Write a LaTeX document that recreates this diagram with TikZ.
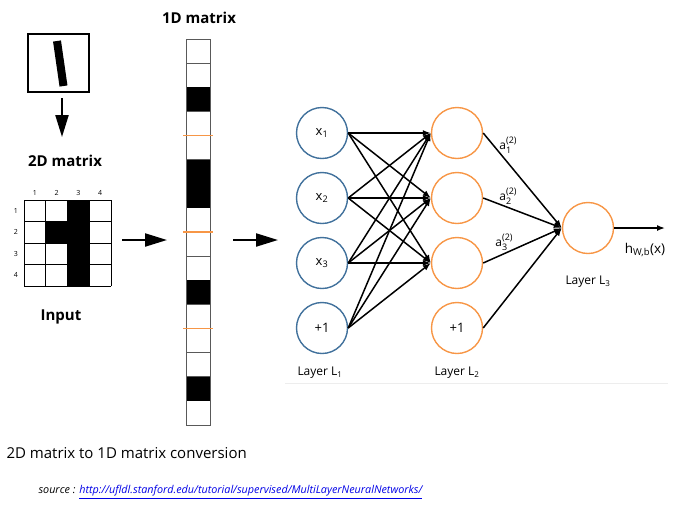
\documentclass[tikz,border=0pt]{standalone}
\usepackage{fontspec}
\setmainfont{Open Sans}
\usetikzlibrary{arrows.meta}
\definecolor{layerblue}{RGB}{65,113,156}
\definecolor{layerorange}{RGB}{247,150,70}
\definecolor{linkblue}{RGB}{0,0,230}
\newcommand{\actlabel}[2]{a\makebox[0pt][l]{\raisebox{-0.6ex}{\fontsize{9}{9}\selectfont #1}}\raisebox{0.9ex}{\fontsize{9}{9}\selectfont #2}}

\begin{document}
\begin{tikzpicture}[x=1pt,y=-1pt,
	neuronA/.style={circle,draw=layerblue,line width=1.4pt,minimum size=51pt,inner sep=0pt,font=\fontsize{13}{15}\selectfont},
	neuronB/.style={circle,draw=layerorange,line width=1.4pt,minimum size=51pt,inner sep=0pt,font=\fontsize{13}{15}\selectfont},
	layertext/.style={font=\fontsize{12}{14}\selectfont},
	title/.style={font=\fontsize{15}{18}\selectfont\bfseries},
	bigarrow/.style={line width=2.2pt,-{Triangle[length=22pt,width=13pt]}},
	link/.style={line width=1.5pt,-{Latex[length=8pt,width=6pt]}}]
	\useasboundingbox (0,0) rectangle (674,507);
	% Eingabebild
	\draw[line width=1.6pt] (28,34) rectangle (89,92);
	\draw[line width=8pt] (57,41) -- (63.5,86);
	\coordinate (imgtop) at (62,98);
	\coordinate (imgbot) at (62,137);
	\draw[bigarrow] (imgtop) -- (imgbot);
	\node[title] (mat2d) at (65,161) {2D matrix};
	% 2D Matrix
	\begin{scope}[shift={(24,286)},x=21.75pt,y=21.5pt]
		\foreach \c/\r in {3/1,2/2,3/2,3/3,3/4}
			\fill (\c-1,4-\r) rectangle (\c,5-\r);
		\foreach \i in {0,...,4} {
			\draw[line width=0.8pt] (\i,0) -- (\i,4);
			\draw[line width=0.8pt] (0,\i) -- (4,\i);
		}
		\foreach \i in {1,...,4} {
			\node[font=\fontsize{7}{8}\selectfont] (col\i) at (\i-0.5,4.33) {\i};
			\node[font=\fontsize{7}{8}\selectfont] (row\i) at (-0.37,4.5-\i) {\i};
		}
	\end{scope}
	\node[title] (input) at (61,317) {Input};
	% Pfeile
	\coordinate (arrA1) at (122,240);
	\coordinate (arrA2) at (167,240);
	\coordinate (arrB1) at (233,240);
	\coordinate (arrB2) at (278,240);
	\draw[bigarrow] (arrA1) -- (arrA2);
	\draw[bigarrow] (arrB1) -- (arrB2);
	% 1D Matrix
	\node[title] (mat1d) at (199,18) {1D matrix};
	\begin{scope}[shift={(186.5,425)},x=24pt,y=24.125pt]
		\foreach \k in {1,...,15}
			\draw[black!65,line width=0.8pt] (0,\k) -- (1,\k);
		\foreach \k in {3,6,7,11,15}
			\fill (0,16-\k) rectangle (1,17-\k);
		\draw[black!65,line width=0.8pt] (0,0) rectangle (1,16);
		\foreach \k in {4,8,12}
			\draw[layerorange,line width=1.7pt] (-0.13,\k) -- (1.1,\k);
	\end{scope}
	% Netz
	\node[neuronA] (x1) at (322,133) {x\textsubscript{1}};
	\node[neuronA] (x2) at (322,198) {x\textsubscript{2}};
	\node[neuronA] (x3) at (322,263) {x\textsubscript{3}};
	\node[neuronA] (b1) at (322,328) {+1};
	\node[neuronB] (h1) at (457,133) {};
	\node[neuronB] (h2) at (457,198) {};
	\node[neuronB] (h3) at (457,263) {};
	\node[neuronB] (b2) at (457,328) {+1};
	\node[neuronB] (y) at (588,228) {};
	\foreach \i in {x1,x2,x3,b1}
		\foreach \j in {h1,h2,h3}
			\draw[link] (\i.east) -- (\j.west);
	\foreach \j in {h1,h2,h3,b2}
		\draw[link] (\j.east) -- (y.west);
	\coordinate (out) at (665,228);
	\draw[link] (y.east) -- (out);
	\node[font=\fontsize{13.5}{15}\selectfont] (hout) at (645,250) {h\textsubscript{W,b}(x)};
	\node[layertext] (act1) at (508,145) {\actlabel{1}{(2)}};
	\node[layertext] (act2) at (508,196) {\actlabel{2}{(2)}};
	\node[layertext] (act3) at (504,242) {\actlabel{3}{(2)}};
	\node[layertext] (lay1) at (320,373) {Layer L\textsubscript{1}};
	\node[layertext] (lay2) at (457,373) {Layer L\textsubscript{2}};
	\node[layertext] (lay3) at (588,282) {Layer L\textsubscript{3}};
	\draw[black!7,line width=1pt] (285,383) -- (668,383);
	% Beschriftung
	\node[anchor=west,font=\fontsize{15}{18}\selectfont] (caption) at (3,453) {2D matrix to 1D matrix conversion};
	\node[anchor=west,font=\fontsize{10.8}{12}\selectfont\itshape] (source) at (35,492) {source : \textcolor{linkblue}{\underline{http://ufldl.stanford.edu/tutorial/supervised/MultiLayerNeuralNetworks/}}};
\end{tikzpicture}
\end{document}
